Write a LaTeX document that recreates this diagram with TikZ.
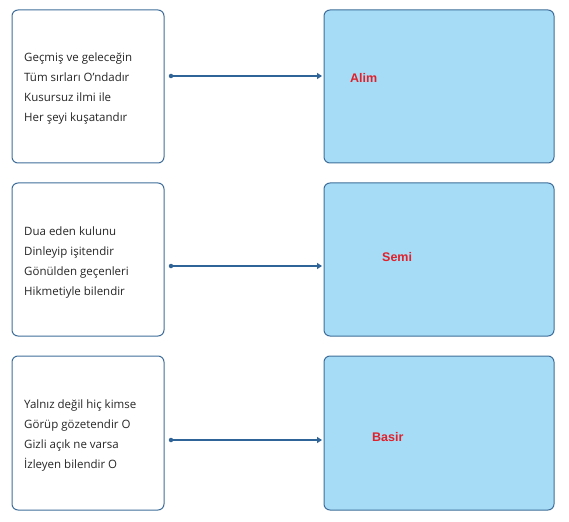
\documentclass[tikz,border=0pt]{standalone}
\usepackage{fontspec}
\setmainfont{Open Sans}
\newfontfamily\labfont{Liberation Sans}
\usetikzlibrary{arrows.meta}
\definecolor{edge}{HTML}{3F6E9A}
\definecolor{fillb}{HTML}{A6DCF6}
\definecolor{arr}{HTML}{2F6498}
\definecolor{lab}{HTML}{E0202A}
\tikzset{
  leftbox/.style={draw=edge, line width=1pt, rounded corners=6pt, fill=white},
  rightbox/.style={draw=edge, line width=1pt, rounded corners=6pt, fill=fillb},
  verse/.style={anchor=west, align=left, font=\fontsize{11.5}{20.3}\selectfont, text=black!85, inner sep=0pt},
  lbl/.style={anchor=west, font=\labfont\bfseries\fontsize{12.5}{14}\selectfont, text=lab, inner sep=0pt},
  conn/.style={draw=arr, line width=1.3pt, -{Triangle[length=5pt,width=6pt]}},
  dot/.style={circle, fill=arr, inner sep=0pt, minimum size=4.5pt}
}
\begin{document}
\begin{tikzpicture}[x=1pt,y=-1pt]
\useasboundingbox (0,0) rectangle (569,521);
% row 1
\draw[leftbox] (12,10) rectangle (164,163);
\draw[rightbox] (324,10) rectangle (554,163);
\node[verse] (t1) at (24,88.5) {Geçmiş ve geleceğin\\Tüm sırları O'ndadır\\Kusursuz ilmi ile\\Her şeyi kuşatandır};
\node[dot] (d1) at (171,76) {};
\coordinate (e1) at (322,76);
\draw[conn] (d1.center) -- (e1);
\node[lbl] (l1) at (350,78) {Alim};
% row 2
\draw[leftbox] (12,183) rectangle (164,336);
\draw[rightbox] (324,183) rectangle (554,336);
\node[verse] (t2) at (24,262.5) {Dua eden kulunu\\Dinleyip işitendir\\Gönülden geçenleri\\Hikmetiyle bilendir};
\node[dot] (d2) at (171,266) {};
\coordinate (e2) at (322,266);
\draw[conn] (d2.center) -- (e2);
\node[lbl] (l2) at (382,257) {Semi};
% row 3
\draw[leftbox] (12,356) rectangle (164,510);
\draw[rightbox] (324,356) rectangle (554,510);
\node[verse] (t3) at (24,435.5) {Yalnız değil hiç kimse\\Görüp gözetendir O\\Gizli açık ne varsa\\İzleyen bilendir O};
\node[dot] (d3) at (171,440) {};
\coordinate (e3) at (322,440);
\draw[conn] (d3.center) -- (e3);
\node[lbl] (l3) at (372,437) {Basir};
\end{tikzpicture}
\end{document}
